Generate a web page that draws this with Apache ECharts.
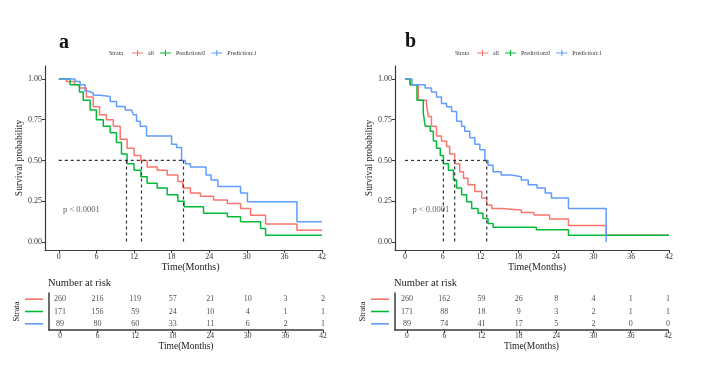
<!DOCTYPE html>
<html><head><meta charset="utf-8">
<script src="https://cdn.jsdelivr.net/npm/echarts@6/dist/echarts.min.js"></script>
<style>html,body{margin:0;padding:0;background:#fff}#c{width:713px;height:370px}</style>
</head><body><div id="c"></div>
<script>
// ---------- data ----------
const groupNames = ['all', 'Prediction:0', 'Prediction:1'];
const groupColors = ['#F8766D', '#00BA38', '#619CFF'];
const timeTicks = [0, 6, 12, 18, 24, 30, 36, 42];
const survTicks = [0, 0.25, 0.5, 0.75, 1];

// panel a survival curves [time, survival]
const a_all = [[0,1],[1.2,0.985],[2.5,0.965],[3.3,0.945],[4.4,0.89],[5.5,0.83],[6.5,0.78],[7.6,0.75],[8.7,0.71],[9.8,0.63],[10.9,0.575],[12,0.53],[13.1,0.50],[14.1,0.46],[15.7,0.44],[17.3,0.41],[19,0.37],[19.8,0.33],[21,0.30],[22.6,0.28],[24.7,0.257],[26.9,0.236],[29,0.205],[30.6,0.164],[33,0.11],[38,0.072],[42,0.072]];
const a_p0 = [[0,1],[1.8,0.965],[3.3,0.92],[3.9,0.87],[5,0.81],[6,0.75],[7.1,0.71],[8.2,0.67],[9.2,0.61],[10,0.54],[10.9,0.48],[12,0.44],[13.1,0.40],[14.1,0.36],[15.7,0.33],[17.3,0.29],[19,0.25],[20,0.215],[23.1,0.175],[26.9,0.154],[29,0.123],[32.2,0.082],[33,0.041],[42,0.041]];
const a_p1 = [[0,1],[2.6,0.985],[3.4,0.965],[4.2,0.925],[4.7,0.914],[5.5,0.90],[6.6,0.893],[8.2,0.862],[9.2,0.832],[10.6,0.81],[11.6,0.80],[11.9,0.78],[12.4,0.74],[13,0.71],[14,0.65],[18,0.60],[18.8,0.58],[19.6,0.50],[20.2,0.48],[21,0.46],[23.5,0.41],[24.3,0.38],[25.4,0.34],[29,0.30],[30.1,0.246],[38,0.123],[42,0.123]];
const a_medians = [10.8, 13.2, 19.9];
const a_pText = 'p < 0.0001';
const a_pPos = [3.6, 0.195];

// panel b survival curves
const b_all = [[0,1],[0.8,0.965],[2.1,0.87],[3.4,0.85],[3.7,0.77],[4.2,0.71],[5,0.65],[5.8,0.62],[6.6,0.585],[7.1,0.54],[7.9,0.48],[8.7,0.43],[9.3,0.39],[10,0.35],[11.1,0.31],[12.2,0.27],[13,0.226],[13.8,0.205],[15.3,0.195],[18.5,0.18],[20.5,0.165],[23,0.14],[26,0.10],[32,0.04],[42,0.04]];
const b_p0 = [[0,1],[0.8,0.965],[1.9,0.87],[2.9,0.79],[3.2,0.71],[4,0.68],[4.5,0.62],[5,0.575],[5.6,0.53],[6.1,0.48],[6.9,0.44],[7.7,0.38],[8.2,0.33],[9,0.29],[9.8,0.246],[10.6,0.205],[11.6,0.175],[12.4,0.144],[13.2,0.113],[14,0.09],[20.9,0.075],[26,0.041],[42,0.041]];
const b_p1 = [[0,1],[1.1,0.965],[3.2,0.945],[4.2,0.92],[5,0.89],[5.8,0.85],[6.6,0.83],[7.4,0.80],[8.2,0.74],[9,0.71],[9.5,0.68],[10.3,0.64],[11.1,0.60],[11.9,0.565],[12.7,0.50],[13.2,0.47],[14,0.43],[15.3,0.41],[16.9,0.40],[18.5,0.38],[19.6,0.35],[21,0.33],[22.3,0.30],[23.3,0.27],[26,0.205],[32,0]];
const b_medians = [6.1, 7.9, 13.0];
const b_pText = 'p < 0.0001';
const b_pPos = [4.1, 0.195];

// numbers at risk
const a_risk_all = [260,216,119,57,21,10,3,2];
const a_risk_p0  = [171,156,59,24,10,4,1,1];
const a_risk_p1  = [89,80,60,33,11,6,2,1];
const b_risk_all = [260,162,59,26,8,4,1,1];
const b_risk_p0  = [171,88,18,9,3,2,1,1];
const b_risk_p1  = [89,74,41,17,5,2,0,0];

// ---------- chart ----------
const F = 'Liberation Serif';
const AX = '#3a3a3a';
const chart = echarts.init(document.getElementById('c'), null, {renderer:'canvas'});

function plotX(idx, min, padLeft){
  return {gridIndex: idx, type:'value', min:min, max:42,
    name:'Time(Months)', nameLocation:'middle', nameGap:12,
    nameTextStyle:{fontFamily:F, fontSize:10, color:'#222', padding:[0,0,0,padLeft]},
    axisLine:{show:true, onZero:false, lineStyle:{color:AX, width:1.2}},
    axisTick:{show:true, length:3, customValues:timeTicks, lineStyle:{color:AX}},
    axisLabel:{customValues:timeTicks, fontFamily:F, fontSize:8, color:'#333', margin:3},
    splitLine:{show:false}};
}
function plotY(idx){
  return {gridIndex: idx, type:'value', min:-0.05, max:1.08,
    name:'Survival probability', nameLocation:'middle', nameGap:21, nameRotate:90,
    nameTextStyle:{fontFamily:F, fontSize:9.5, color:'#222'},
    axisLine:{show:true, onZero:false, lineStyle:{color:AX, width:1.2}},
    axisTick:{show:true, length:3, customValues:survTicks, lineStyle:{color:AX}},
    axisLabel:{customValues:survTicks, fontFamily:F, fontSize:8, color:'#333', margin:3,
      formatter:v=>v.toFixed(2)},
    splitLine:{show:false}};
}
function tableX(idx, min){
  return {gridIndex: idx, type:'value', min:min, max:42,
    name:'Time(Months)', nameLocation:'middle', nameGap:11,
    nameTextStyle:{fontFamily:F, fontSize:9.5, color:'#222'},
    axisLine:{show:true, onZero:false, lineStyle:{color:AX, width:1.5}},
    axisTick:{show:true, length:3, customValues:timeTicks, lineStyle:{color:AX}},
    axisLabel:{customValues:timeTicks, fontFamily:F, fontSize:7.5, color:'#333', margin:2},
    splitLine:{show:false}};
}
const rich = {};
groupColors.forEach((c,i)=>{ rich['c'+i] = {width:18, height:1.6, backgroundColor:c}; });
function tableY(idx){
  return {gridIndex: idx, type:'category', data:groupNames, inverse:true,
    name:'Strata', nameLocation:'middle', nameGap:27, nameRotate:90,
    nameTextStyle:{fontFamily:F, fontSize:8.5, color:'#222'},
    axisLine:{show:true, onZero:false, lineStyle:{color:AX, width:1.5}},
    axisTick:{show:false},
    axisLabel:{margin:6, interval:0, hideOverlap:false,
      formatter:(v)=>'{c'+groupNames.indexOf(v)+'| }', rich:rich},
    splitLine:{show:false}};
}

const series = [];
function addKM(curves, gi){
  curves.forEach((d,i)=>{
    series.push({type:'line', name:groupNames[i], data:d, step:'end', symbol:'none', showSymbol:false,
      xAxisIndex:gi, yAxisIndex:gi, color:groupColors[i],
      lineStyle:{width:1.5, color:groupColors[i]}, z:3, animation:false, silent:true});
  });
}
function addMedians(meds, gi){
  const lineStyle = {type:[3,3], width:1.2, color:'#333'};
  const mx = Math.max(...meds);
  series.push({type:'line', data:[[0,0.5],[mx,0.5]], symbol:'none', xAxisIndex:gi, yAxisIndex:gi,
    lineStyle:lineStyle, z:4, animation:false, silent:true});
  meds.forEach(m=>{
    series.push({type:'line', data:[[m,0.5],[m,0]], symbol:'none', xAxisIndex:gi, yAxisIndex:gi,
      lineStyle:lineStyle, z:4, animation:false, silent:true});
  });
}
function addP(text, pos, gi){
  series.push({type:'scatter', data:[pos], symbolSize:1, itemStyle:{color:'rgba(0,0,0,0)'},
    xAxisIndex:gi, yAxisIndex:gi, silent:true, animation:false,
    label:{show:true, position:'inside', formatter:text, fontFamily:F, fontSize:8.5, color:'#333'}});
}
function addRisk(rows, gi){
  rows.forEach((r,ri)=>{
    series.push({type:'scatter', data:r.map((n,k)=>[timeTicks[k], ri, n]), symbolSize:1,
      itemStyle:{color:'rgba(0,0,0,0)'}, xAxisIndex:gi, yAxisIndex:gi, silent:true, animation:false,
      label:{show:true, position:'inside', formatter:p=>String(p.value[2]), fontFamily:F, fontSize:8, color:'#222'}});
  });
}

addKM([a_all, a_p0, a_p1], 0);
addMedians(a_medians, 0);
addP(a_pText, a_pPos, 0);
addKM([b_all, b_p0, b_p1], 1);
addMedians(b_medians, 1);
addP(b_pText, b_pPos, 1);
addRisk([a_risk_all, a_risk_p0, a_risk_p1], 2);
addRisk([b_risk_all, b_risk_p0, b_risk_p1], 3);

const legendIcon = 'path://M0,4.4H12V5.6H0Z M5.4,1.8H6.6V8.2H5.4Z';
function legend(left){
  return {left:left, top:50, padding:0, data:groupNames, icon:legendIcon, itemWidth:11, itemHeight:7, itemGap:6,
    textStyle:{fontFamily:F, fontSize:6, color:'#333'}, selectedMode:false};
}

chart.setOption({
  animation:false,
  backgroundColor:'#fff',
  title:[
    {text:'a', left:54, top:28, textStyle:{fontFamily:F, fontSize:20, fontWeight:'bold', color:'#111'}},
    {text:'b', left:400, top:27, textStyle:{fontFamily:F, fontSize:20, fontWeight:'bold', color:'#111'}}
  ],
  legend:[legend(132), legend(477)],
  graphic:[
    {type:'text', left:109, top:50.5, style:{text:'Strata', font:'6px "Liberation Serif"', fill:'#333'}},
    {type:'text', left:455, top:50.5, style:{text:'Strata', font:'6px "Liberation Serif"', fill:'#333'}},
    {type:'text', left:48, top:278, style:{text:'Number at risk', font:'10.5px "Liberation Serif"', fill:'#222'}},
    {type:'text', left:394, top:278, style:{text:'Number at risk', font:'10.5px "Liberation Serif"', fill:'#222'}}
  ],
  grid:[
    {left:45, top:66, width:277, height:184},
    {left:395, top:66, width:274, height:184},
    {left:49, top:293, width:274, height:37},
    {left:395, top:293, width:273, height:37}
  ],
  xAxis:[plotX(0,-2.2,14), plotX(1,-1.6,10), tableX(2,-1.76), tableX(3,-1.93)],
  yAxis:[plotY(0), plotY(1), tableY(2), tableY(3)],
  series:series
});
</script></body></html>
